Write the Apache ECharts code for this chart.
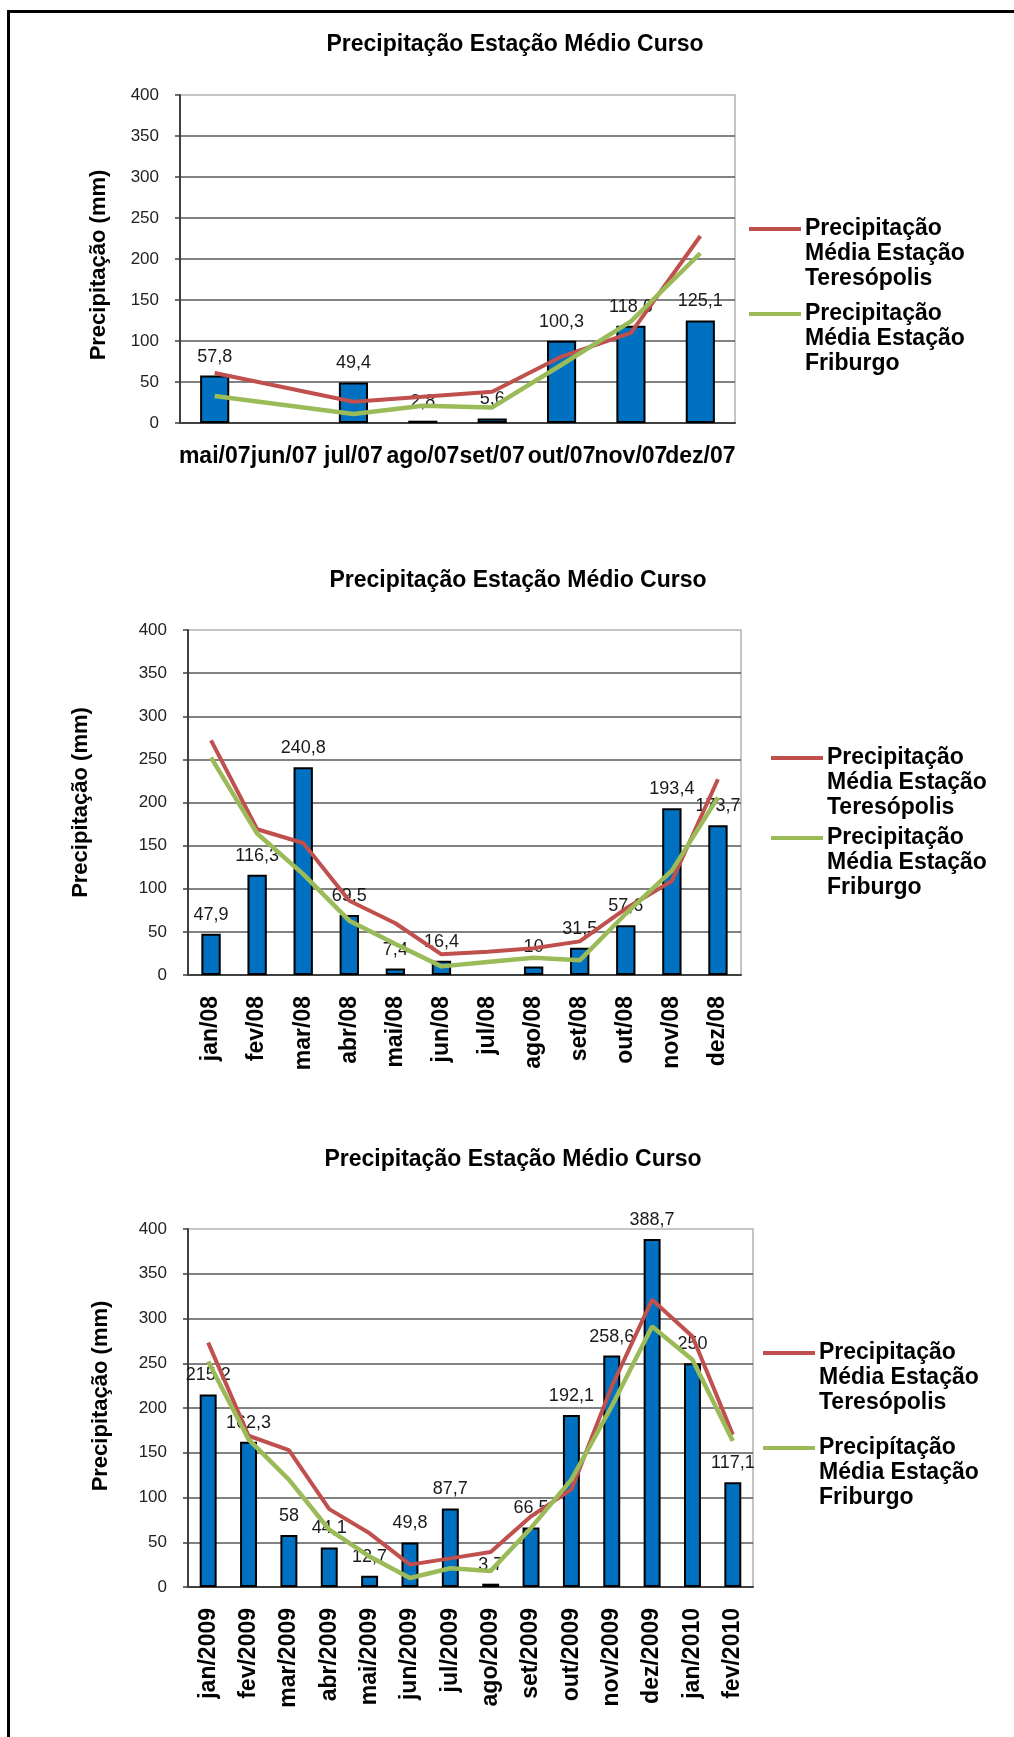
<!DOCTYPE html>
<html>
<head>
<meta charset="utf-8">
<title>Precipitação Estação Médio Curso</title>
<script src="https://cdn.jsdelivr.net/npm/echarts@6.0.0/dist/echarts.min.js"></script>
<style>
  html, body { margin: 0; padding: 0; background: #fff; }
  #chart { width: 1014px; height: 1737px; }
</style>
</head>
<body>
<div id="chart"></div>
<script>
// --- data ---
const months07 = ['mai/07', 'jun/07', 'jul/07', 'ago/07', 'set/07', 'out/07', 'nov/07', 'dez/07'];
const medio07 = [57.8, null, 49.4, 2.8, 5.6, 100.3, 118.6, 125.1];
const tere07 = [61, null, 26, 32, 38, 81, 110, 228];
const frib07 = [33, null, 11, 21, 19, 71, 124, 207];

const months08 = ['jan/08', 'fev/08', 'mar/08', 'abr/08', 'mai/08', 'jun/08', 'jul/08', 'ago/08', 'set/08', 'out/08', 'nov/08', 'dez/08'];
const medio08 = [47.9, 116.3, 240.8, 69.5, 7.4, 16.4, null, 10, 31.5, 57.6, 193.4, 173.7];
const tere08 = [272, 169, 153, 86, 60, 24, 27, 31, 39, 77, 109, 227];
const frib08 = [252, 164, 117, 63, 36, 10, 15, 20, 17, 71, 121, 206];

const months09 = ['jan/2009', 'fev/2009', 'mar/2009', 'abr/2009', 'mai/2009', 'jun/2009', 'jul/2009', 'ago/2009', 'set/2009', 'out/2009', 'nov/2009', 'dez/2009', 'jan/2010', 'fev/2010'];
const medio09 = [215.2, 162.3, 58, 44.1, 12.7, 49.8, 87.7, 3.7, 66.5, 192.1, 258.6, 388.7, 250, 117.1];
const tere09 = [273, 169, 153, 87, 60, 25, 32, 39, 79, 109, 224, 321, 280, 170];
const frib09 = [252, 165, 120, 64, 34, 10, 21, 18, 66, 120, 202, 291, 254, 163];

const chartTitle = 'Precipitação Estação Médio Curso';
const yName = 'Precipitação (mm)';
const legendTere = 'Precipitação\nMédia Estação\nTeresópolis';
const legendFrib = 'Precipitação\nMédia Estação\nFriburgo';
const legendFrib09 = 'Precipítação\nMédia Estação\nFriburgo';

const FONT = '"Liberation Sans", Arial, sans-serif';
const RED = '#c0504d';
const GREEN = '#9bbb59';
const BLUE = '#0070c0';

// layout of each panel
const panels = [
  {
    cats: months07, bars: medio07, tere: tere07, frib: frib07,
    titleX: 515, titleY: 45,
    grid: { left: 180, top: 95, width: 555, height: 328 },
    nameGap: 70, namePad: [0, 12, 0, 0], rotate: 0, labelSize: 23, labelMargin: 22,
    legX: 749, legY1: 229, legY2: 314, legFrib: legendFrib
  },
  {
    cats: months08, bars: medio08, tere: tere08, frib: frib08,
    titleX: 518, titleY: 581,
    grid: { left: 188, top: 630, width: 553, height: 345 },
    nameGap: 96, namePad: 0, rotate: 90, labelSize: 23, labelMargin: 21,
    legX: 771, legY1: 758, legY2: 838, legFrib: legendFrib
  },
  {
    cats: months09, bars: medio09, tere: tere09, frib: frib09,
    titleX: 513, titleY: 1160,
    grid: { left: 188, top: 1229, width: 565, height: 358 },
    nameGap: 76, namePad: [0, 0, 0, 24], rotate: 90, labelSize: 23, labelMargin: 21,
    legX: 763, legY1: 1353, legY2: 1448, legFrib: legendFrib09
  }
];

const fmt = (p) => (p.value == null ? '' : String(p.value).replace('.', ','));

const chart = echarts.init(document.getElementById('chart'));

const option = {
  backgroundColor: '#fff',
  animation: false,
  textStyle: { fontFamily: FONT },
  title: [],
  grid: [],
  xAxis: [],
  yAxis: [],
  series: [],
  graphic: []
};

// outer frame (top and left edges only)
option.graphic.push({
  type: 'polyline',
  shape: { points: [[8.5, 1737], [8.5, 11.5], [1014, 11.5]] },
  style: { stroke: '#000', lineWidth: 3, fill: null }
});

panels.forEach((p, i) => {
  option.title.push({
    text: chartTitle,
    left: p.titleX,
    top: p.titleY,
    padding: 0,
    textAlign: 'center',
    textVerticalAlign: 'middle',
    textStyle: { fontFamily: FONT, fontSize: 23, fontWeight: 'bold', color: '#000' }
  });

  option.grid.push(Object.assign({
    show: true,
    backgroundColor: '#fff',
    borderColor: '#b3b3b3',
    borderWidth: 1.5,
    containLabel: false
  }, p.grid));

  option.xAxis.push({
    type: 'category',
    gridIndex: i,
    data: p.cats,
    boundaryGap: true,
    axisTick: { show: false },
    axisLine: { show: true, lineStyle: { color: '#404040', width: 2 } },
    axisLabel: {
      interval: 0,
      hideOverlap: false,
      rotate: p.rotate,
      margin: p.labelMargin,
      fontFamily: FONT,
      fontSize: p.labelSize,
      fontWeight: 'bold',
      color: '#000'
    }
  });

  option.yAxis.push({
    type: 'value',
    gridIndex: i,
    min: 0,
    max: 400,
    interval: 50,
    name: yName,
    nameLocation: 'middle',
    nameGap: p.nameGap,
    nameTextStyle: { fontFamily: FONT, fontSize: 22, fontWeight: 'bold', color: '#000', padding: p.namePad },
    axisLine: { show: true, lineStyle: { color: '#404040', width: 2 } },
    axisTick: { show: true, length: 5, lineStyle: { color: '#404040', width: 1.5 } },
    axisLabel: { margin: 21, fontFamily: FONT, fontSize: 17, color: '#222' },
    splitLine: { show: true, showMaxLine: false, lineStyle: { color: '#595959', width: 1.5 } }
  });

  option.series.push({
    name: 'Médio Curso',
    type: 'bar',
    xAxisIndex: i,
    yAxisIndex: i,
    data: p.bars,
    barWidth: '42%',
    itemStyle: { color: BLUE, borderColor: '#000', borderWidth: 2 },
    label: {
      show: true,
      position: 'top',
      distance: 10,
      formatter: fmt,
      fontFamily: FONT,
      fontSize: 18,
      color: '#1a1a1a'
    },
    z: 2
  });

  option.series.push({
    name: 'Precipitação Média Estação Teresópolis',
    type: 'line',
    xAxisIndex: i,
    yAxisIndex: i,
    data: p.tere,
    connectNulls: true,
    showSymbol: false,
    symbol: 'none',
    lineStyle: { color: RED, width: 4 },
    itemStyle: { color: RED },
    z: 3
  });

  option.series.push({
    name: 'Precipitação Média Estação Friburgo',
    type: 'line',
    xAxisIndex: i,
    yAxisIndex: i,
    data: p.frib,
    connectNulls: true,
    showSymbol: false,
    symbol: 'none',
    lineStyle: { color: GREEN, width: 4.5 },
    itemStyle: { color: GREEN },
    z: 3
  });

  // legend: coloured line + three-line label
  [[p.legY1, RED, legendTere], [p.legY2, GREEN, p.legFrib]].forEach(([y, c, txt]) => {
    option.graphic.push({
      type: 'line',
      shape: { x1: p.legX, y1: y, x2: p.legX + 52, y2: y },
      style: { stroke: c, lineWidth: 4 }
    });
    option.graphic.push({
      type: 'text',
      x: p.legX + 56,
      y: y - 12.5,
      style: {
        text: txt,
        font: 'bold 23px ' + FONT,
        lineHeight: 25,
        fill: '#000',
        verticalAlign: 'top'
      }
    });
  });
});

chart.setOption(option);
window.addEventListener('resize', () => chart.resize());
</script>
</body>
</html>
